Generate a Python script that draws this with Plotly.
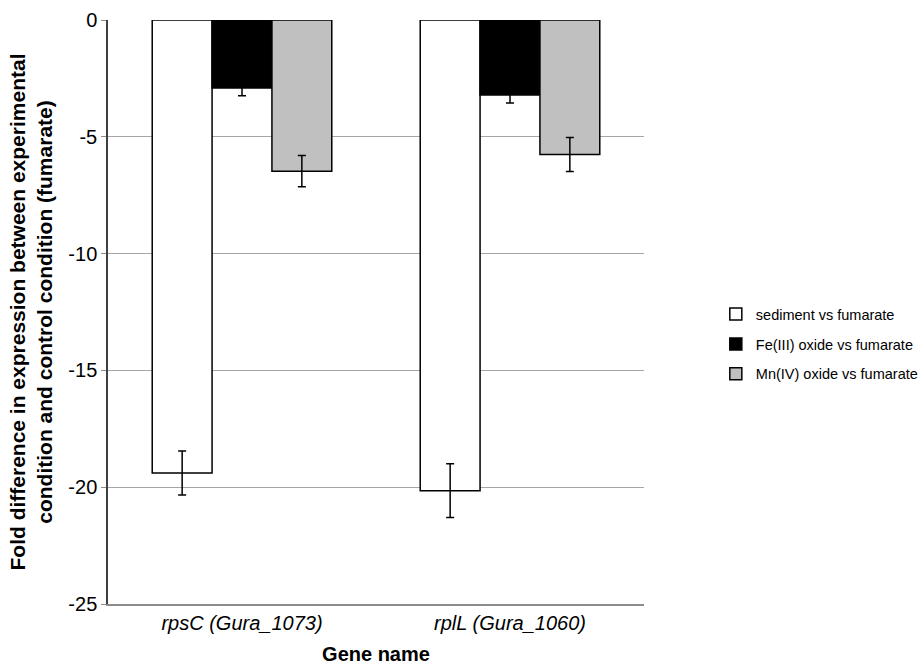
import plotly.graph_objects as go

genes = ["rpsC (Gura_1073)", "rplL (Gura_1060)"]
series_names = ["sediment vs fumarate", "Fe(III) oxide vs fumarate", "Mn(IV) oxide vs fumarate"]
sediment = [-19.39, -20.15]
sediment_err = [0.94, 1.15]
fe_oxide = [-2.91, -3.21]
fe_err = [0.33, 0.34]
mn_oxide = [-6.47, -5.76]
mn_err = [0.67, 0.73]
y_ticks = [0, -5, -10, -15, -20, -25]

fills = ["#ffffff", "#000000", "#c0c0c0"]
values = [sediment, fe_oxide, mn_oxide]
errs = [sediment_err, fe_err, mn_err]

fig = go.Figure()
for name, v, e, c in zip(series_names, values, errs, fills):
    fig.add_trace(go.Bar(
        x=genes, y=v, name=name, legendgroup=name,
        marker=dict(color=c, line=dict(color="#000000", width=1.5)),
        error_y=dict(type="data", array=e, visible=True, color="#000000", thickness=1.5, width=4),
    ))

fig.update_layout(
    width=921, height=672,
    margin=dict(l=108, r=277, t=20, b=68, autoexpand=False),
    plot_bgcolor="white", paper_bgcolor="white",
    barmode="group", bargap=0.33, bargroupgap=0,
    font=dict(family="Liberation Sans, Arial", size=16, color="#000000"),
    showlegend=True,
    legend=dict(x=1.134, y=0.445, xanchor="left", yanchor="middle",
                font=dict(size=14.5), itemwidth=30, tracegroupgap=8,
                bgcolor="rgba(0,0,0,0)"),
    xaxis=dict(
        tickvals=genes,
        ticktext=["<i>" + g + "</i>" for g in genes],
        showline=True, linecolor="#8c8c8c", linewidth=1.5,
        ticks="", tickfont=dict(size=20),
        title=dict(text="<b>Gene name</b>", font=dict(size=20), standoff=14),
    ),
    yaxis=dict(
        range=[-25, 0], tickvals=y_ticks, ticktext=[str(t) for t in y_ticks],
        showgrid=True, gridcolor="#a6a6a6", gridwidth=1,
        showline=True, linecolor="#404040", linewidth=1.5,
        ticks="outside", ticklen=5, tickcolor="#8c8c8c",
        zeroline=False, tickfont=dict(size=20),
        title=dict(text="<b>Fold difference in expression between experimental<br>condition and control condition (fumarate)</b>",
                   font=dict(size=21), standoff=10),
    ),
)

fig.write_html("out.html")
